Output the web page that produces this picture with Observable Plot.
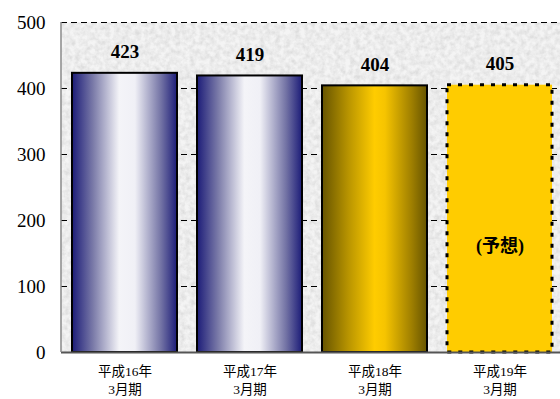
<!DOCTYPE html>
<html>
<head>
<meta charset="utf-8">
<script src="https://cdn.jsdelivr.net/npm/d3@7"></script>
<script src="https://cdn.jsdelivr.net/npm/@observablehq/plot@0.6"></script>
<style>
  html, body { margin: 0; padding: 0; background: #fff; }
  #chart { width: 560px; height: 399px; }
  #chart svg text, #chart svg tspan { font-family: "Liberation Serif", "Noto Sans CJK JP", serif !important; }
</style>
</head>
<body>
<div id="chart"></div>
<script>
const categories = ["平成16年\n3月期", "平成17年\n3月期", "平成18年\n3月期", "平成19年\n3月期"];
const values = [423, 419, 404, 405];
const yTicks = [0, 100, 200, 300, 400, 500];
const forecastLabel = "(予想)";

const data = categories.map((c, i) => ({cat: c, value: values[i], i}));

const plot = Plot.plot({
  width: 560,
  height: 399,
  marginLeft: 61,
  marginRight: 0,
  marginTop: 22,
  marginBottom: 47,
  style: {background: "transparent", overflow: "visible"},
  x: {domain: categories, range: [61, 563], paddingInner: 0.16, paddingOuter: 0.08, label: null},
  y: {domain: [0, 500], label: null},
  marks: [
    Plot.frame({fill: "#eeeeee", stroke: null, className: "bgframe"}),
    Plot.gridY(yTicks.filter(t => t > 0), {stroke: "#000", strokeOpacity: 1, strokeWidth: 1, strokeDasharray: "6,4"}),
    Plot.barY(data.filter(d => d.i < 2), {x: "cat", y: "value", fill: "url(#blueGrad)", stroke: "#000", strokeWidth: 2}),
    Plot.barY(data.filter(d => d.i === 2), {x: "cat", y: "value", fill: "url(#goldGrad)", stroke: "#000", strokeWidth: 2}),
    Plot.barY(data.filter(d => d.i === 3), {x: "cat", y: "value", fill: "#ffcc00", stroke: "#000", strokeWidth: 3, strokeDasharray: "4,7"}),
    Plot.axisY(yTicks, {tickSize: 0, tickPadding: 16, fontSize: 19, fill: "#000"}),
    Plot.tickY(yTicks.filter(t => t > 0 && t < 500), {y: d => d, stroke: "#000", strokeWidth: 1, className: "ytick"}),
    Plot.axisX({tickSize: 0, tickPadding: 11, fontSize: 13.5, fill: "#000", lineHeight: 1.33}),
    Plot.ruleY([0], {stroke: "#555", strokeWidth: 2}),
    Plot.text(data, {x: "cat", y: "value", text: d => String(d.value), dy: -21, fontSize: 19, fontWeight: "bold", fill: "#000"}),
    Plot.text(data.filter(d => d.i === 3), {x: "cat", y: 0, dy: -106, text: () => forecastLabel, fontSize: 18, fontWeight: "bold", fill: "#000", className: "forecast"})
  ]
});

const svgNS = "http://www.w3.org/2000/svg";
const defs = document.createElementNS(svgNS, "defs");
defs.innerHTML = `
  <linearGradient id="blueGrad" x1="0" x2="1" y1="0" y2="0">
    <stop offset="0" stop-color="#1c1c78"/>
    <stop offset="0.2" stop-color="#7a7aa8"/>
    <stop offset="0.45" stop-color="#f4f4f8"/>
    <stop offset="0.6" stop-color="#f0f0f6"/>
    <stop offset="0.85" stop-color="#7272a4"/>
    <stop offset="1" stop-color="#1c1c78"/>
  </linearGradient>
  <linearGradient id="goldGrad" x1="0" x2="1" y1="0" y2="0">
    <stop offset="0" stop-color="#665400"/>
    <stop offset="0.25" stop-color="#b89400"/>
    <stop offset="0.5" stop-color="#ffcc00"/>
    <stop offset="0.6" stop-color="#f6c400"/>
    <stop offset="0.85" stop-color="#a08000"/>
    <stop offset="1" stop-color="#665400"/>
  </linearGradient>
  <filter id="granite" x="0" y="0" width="100%" height="100%">
    <feTurbulence type="fractalNoise" baseFrequency="0.2" numOctaves="3" seed="4" result="noise"/>
    <feColorMatrix in="noise" type="matrix" values="0 0 0 0 0.72  0 0 0 0 0.72  0 0 0 0 0.72  0 0 0 -1.8 1.25" result="spots"/>
    <feFlood flood-color="#f4f4f4" result="base"/>
    <feComposite in="spots" in2="base" operator="over" result="tex"/>
    <feComposite in="tex" in2="SourceGraphic" operator="in"/>
  </filter>`;
plot.insertBefore(defs, plot.firstChild);
const bg = plot.querySelector(".bgframe rect, rect.bgframe, .bgframe");
if (bg) bg.setAttribute("filter", "url(#granite)");

document.getElementById("chart").appendChild(plot);

const yScale = plot.scale("y");
const left = document.createElementNS(svgNS, "line");
left.setAttribute("x1", 61); left.setAttribute("x2", 61);
left.setAttribute("y1", yScale.apply(500)); left.setAttribute("y2", yScale.apply(0));
left.setAttribute("stroke", "#888"); left.setAttribute("stroke-width", 1.5);
plot.appendChild(left);

plot.querySelectorAll(".ytick line").forEach(l => {
  l.setAttribute("x1", 61); l.setAttribute("x2", 67);
});

const ft = plot.querySelector(".forecast text");
if (ft) {
  const b = ft.getBBox();
  const r = document.createElementNS(svgNS, "rect");
  r.setAttribute("x", b.x - 7); r.setAttribute("y", b.y - 5);
  r.setAttribute("width", b.width + 14); r.setAttribute("height", b.height + 9);
  r.setAttribute("fill", "#fff");
  ft.parentNode.insertBefore(r, ft);
}
</script>
</body>
</html>
